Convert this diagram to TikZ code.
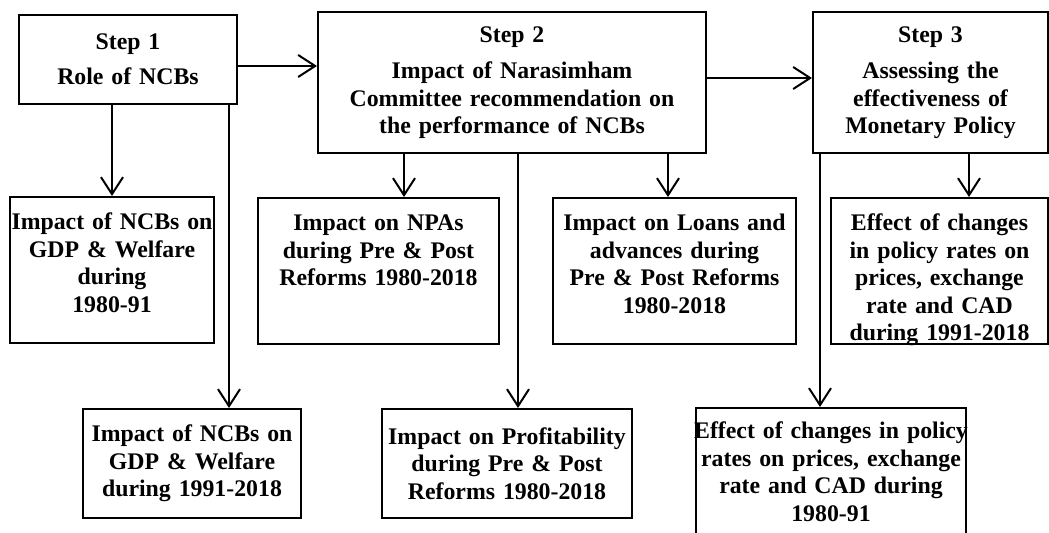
\documentclass[tikz,border=0pt]{standalone}
\usepackage{fontspec}
\setmainfont{Liberation Serif}
\usetikzlibrary{arrows.meta}

\begin{document}
\begin{tikzpicture}[%
    x=0.5pt, y=-0.5pt,          % One unit is one pixel of the sketch, y going down
    >={Straight Barb[length=8.5pt,width=11pt]}, % Open arrow heads
    ]
% -------------------------------------------------
% Box styles
% <topbox> keeps the text at the top of a tall box
\tikzset{
  base/.style={draw, line width=1pt, inner sep=0pt, align=center,
    font=\fontsize{11.9}{13.7}\selectfont\bfseries},
  box/.style={base, text width=#1},
  topbox/.style={base, text width=#1, anchor=north,
    text height=16.5pt, text depth=56.5pt},
  % Connector line style
  norm/.style={->, draw, line width=1pt}
}
\useasboundingbox (0,0) rectangle (1049,533);
\clip (0,0) rectangle (1049,533);
% -------------------------------------------------
% The three steps
\node [box=109pt, minimum height=44.5pt] (s1) at (128,59.5)
  {Step 1\\[4pt]Role of NCBs};
\node [box=194pt, minimum height=70.5pt] (s2) at (512,82.5)
  {Step 2\\[4.5pt]Impact of Narasimham\\Committee recommendation on\\the performance of NCBs};
\node [box=117.5pt, minimum height=70.5pt] (s3) at (930.5,82.5)
  {Step 3\\[4.5pt]Assessing the\\effectiveness of\\Monetary Policy};
% -------------------------------------------------
% First row of outcomes
\node [topbox=102pt] (gdp1) at (112,196)
  {Impact of NCBs on\\GDP \& Welfare\\during\\1980-91};
\node [topbox=120.5pt] (npa) at (378.5,197)
  {Impact on NPAs\\during Pre \& Post\\Reforms 1980-2018};
\node [topbox=121.5pt] (loan) at (674.5,197)
  {Impact on Loans and\\advances during\\Pre \& Post Reforms\\1980-2018};
\node [topbox=108.5pt] (pol1) at (939.5,197)
  {Effect of changes\\in policy rates on\\prices, exchange\\rate and CAD\\during 1991-2018};
% -------------------------------------------------
% Second row of outcomes
\node [box=109pt, minimum height=54.5pt] (gdp2) at (192,463.5)
  {Impact of NCBs on\\GDP \& Welfare\\during 1991-2018};
\node [box=125pt, minimum height=54.5pt] (prof) at (507,463.5)
  {Impact on Profitability\\during Pre \& Post\\Reforms 1980-2018};
\node [topbox=139pt, inner xsep=-2pt, text height=15.5pt, text depth=62pt] (pol2) at (831,407)
  {Effect of changes in policy\\rates on prices, exchange\\rate and CAD during\\1980-91};
% -------------------------------------------------
% Connectors
\draw [norm] ([yshift=-3.25pt]s1.east) -- ([yshift=-3.25pt]s1.east -| s2.west);
\draw [norm] ([yshift=2.25pt]s2.east) -- ([yshift=2.25pt]s2.east -| s3.west);
\draw [norm] (gdp1.north |- s1.south) -- (gdp1.north);
\draw [norm] ([xshift=-4.5pt]s1.south east) -- ([xshift=-4.5pt]s1.south east |- gdp2.north);
\draw [norm] ([xshift=43.5pt]s2.south west) -- ([xshift=43.5pt]s2.south west |- npa.north);
\draw [norm] ([xshift=3pt]s2.south) -- ([xshift=3pt]s2.south |- prof.north);
\draw [norm] ([xshift=-19.5pt]s2.south east) -- ([xshift=-19.5pt]s2.south east |- loan.north);
\draw [norm] ([xshift=4pt]s3.south west) -- ([xshift=4pt]s3.south west |- pol2.north);
\draw [norm] ([xshift=-40pt]s3.south east) -- ([xshift=-40pt]s3.south east |- pol1.north);
% -------------------------------------------------
\end{tikzpicture}
\end{document}
